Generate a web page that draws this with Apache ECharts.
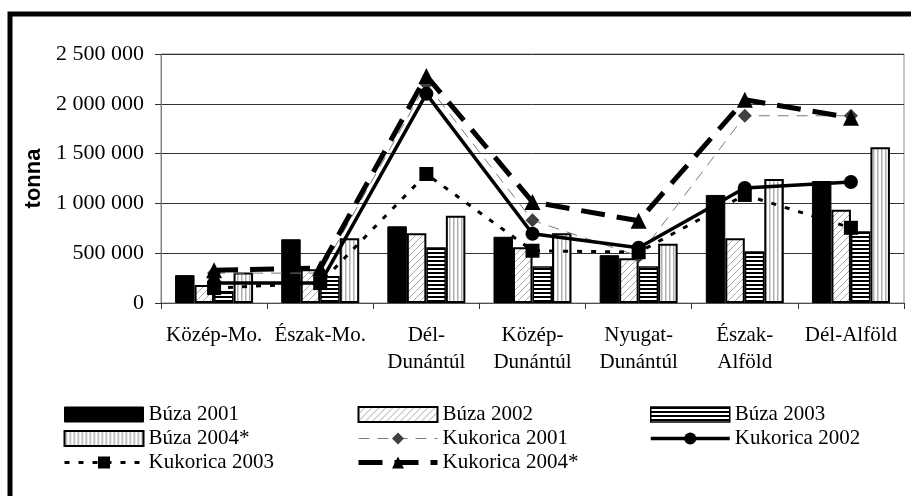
<!DOCTYPE html>
<html>
<head>
<meta charset="utf-8">
<script src="https://cdn.jsdelivr.net/npm/echarts@6/dist/echarts.min.js"></script>
<style>
  html, body { margin: 0; padding: 0; background: #fff; }
  #chart { width: 911px; height: 496px; }
</style>
</head>
<body>
<div id="chart"></div>
<script>
const categories = ['Közép-Mo.', 'Észak-Mo.', 'Dél-\nDunántúl', 'Közép-\nDunántúl', 'Nyugat-\nDunántúl', 'Észak-\nAlföld', 'Dél-Alföld']

const buza2001 = [280000, 640000, 770000, 665000, 480000, 1085000, 1225000]
const buza2002 = [180000, 340000, 700000, 560000, 450000, 650000, 935000]
const buza2003 = [120000, 270000, 560000, 370000, 370000, 520000, 720000]
const buza2004 = [305000, 650000, 875000, 700000, 595000, 1245000, 1565000]
const kukorica2001 = [300000, 300000, 2200000, 830000, 470000, 1880000, 1880000]
const kukorica2002 = [200000, 200000, 2100000, 695000, 555000, 1155000, 1215000]
const kukorica2003 = [150000, 200000, 1295000, 525000, 510000, 1085000, 755000]
const kukorica2004 = [330000, 350000, 2280000, 1015000, 825000, 2040000, 1860000]

const yMax = 2500000
const yStep = 500000

const serif = 'Liberation Serif'

// small canvas tiles for the hatched bar fills
const makeTile = (w, h, draw) => {
  const c = document.createElement('canvas')
  c.width = w
  c.height = h
  const ctx = c.getContext('2d')
  ctx.fillStyle = '#fff'
  ctx.fillRect(0, 0, w, h)
  draw(ctx)
  return { image: c, repeat: 'repeat' }
}

const diagFill = makeTile(7, 7, ctx => {
  ctx.strokeStyle = '#a8a8a8'
  ctx.lineWidth = 1
  ctx.beginPath()
  ctx.moveTo(-1, 8); ctx.lineTo(8, -1)
  ctx.moveTo(-1, 1); ctx.lineTo(1, -1)
  ctx.moveTo(6, 8); ctx.lineTo(8, 6)
  ctx.stroke()
})

const horizFill = makeTile(4, 4, ctx => {
  ctx.fillStyle = '#000'
  ctx.fillRect(0, 0, 4, 2)
})

const vertFill = makeTile(4, 4, ctx => {
  ctx.fillStyle = '#b0b0b0'
  ctx.fillRect(1, 0, 1.5, 4)
})

const fmt = v => String(v).replace(/\B(?=(\d{3})+(?!\d))/g, ' ')

const chart = echarts.init(document.getElementById('chart'))

const barBase = {
  type: 'bar',
  barWidth: 19.5,
  barGap: '0%',
  z: 2
}

const legendBase = {
  orient: 'vertical',
  top: 404,
  padding: 0,
  itemWidth: 79,
  itemHeight: 15,
  itemGap: 3,
  selectedMode: false,
  itemStyle: { borderWidth: 'inherit' },
  lineStyle: { width: 'inherit', type: 'inherit' },
  textStyle: { fontFamily: serif, fontSize: 21, color: '#000', lineHeight: 21 }
}

const barItem = name => ({ name, icon: 'rect' })

const option = {
  backgroundColor: '#fff',
  animation: false,
  graphic: [{
    type: 'rect',
    shape: { x: 10, y: 14, width: 940, height: 540 },
    style: { fill: 'none', stroke: '#000', lineWidth: 5 },
    silent: true,
    z: 100
  }],
  legend: [
    Object.assign({}, legendBase, { left: 63, data: [barItem('Búza 2001'), barItem('Búza 2004*'), 'Kukorica 2003'] }),
    Object.assign({}, legendBase, { left: 356, data: [barItem('Búza 2002'), 'Kukorica 2001', 'Kukorica 2004*'] }),
    Object.assign({}, legendBase, { left: 649, data: [barItem('Búza 2003'), 'Kukorica 2002'] })
  ],
  grid: {
    left: 161,
    right: 7,
    top: 54,
    bottom: 193,
    show: true,
    borderColor: '#8a8a8a',
    borderWidth: 1
  },
  xAxis: {
    type: 'category',
    data: categories,
    axisLine: { lineStyle: { color: '#505050', width: 1 } },
    axisTick: { show: true, length: 6, lineStyle: { color: '#303030' } },
    axisLabel: {
      interval: 0,
      margin: 19,
      fontFamily: serif,
      fontSize: 21,
      lineHeight: 27,
      color: '#000'
    }
  },
  yAxis: {
    type: 'value',
    min: 0,
    max: yMax,
    interval: yStep,
    name: 'tonna',
    nameLocation: 'middle',
    nameRotate: 90,
    nameGap: 104,
    nameTextStyle: { fontFamily: 'Liberation Sans', fontWeight: 'bold', fontSize: 22, color: '#000' },
    axisLine: { show: true, lineStyle: { color: '#808080', width: 1 } },
    axisTick: { show: true, length: 6, lineStyle: { color: '#303030' } },
    axisLabel: {
      margin: 17,
      fontFamily: serif,
      fontSize: 22,
      color: '#000',
      formatter: v => fmt(v)
    },
    splitLine: { lineStyle: { color: '#333', width: 1 } }
  },
  series: [
    Object.assign({}, barBase, {
      name: 'Búza 2001',
      data: buza2001,
      itemStyle: { color: '#000', borderColor: '#000', borderWidth: 1 }
    }),
    Object.assign({}, barBase, {
      name: 'Búza 2002',
      data: buza2002,
      itemStyle: { color: diagFill, borderColor: '#000', borderWidth: 2 }
    }),
    Object.assign({}, barBase, {
      name: 'Búza 2003',
      data: buza2003,
      itemStyle: { color: horizFill, borderColor: '#000', borderWidth: 1.5 }
    }),
    Object.assign({}, barBase, {
      name: 'Búza 2004*',
      data: buza2004,
      itemStyle: { color: vertFill, borderColor: '#000', borderWidth: 2 }
    }),
    {
      name: 'Kukorica 2001',
      type: 'line',
      data: kukorica2001,
      symbol: 'diamond',
      symbolSize: 14,
      z: 3,
      lineStyle: { color: '#7a7a7a', width: 1, type: [11, 8] },
      itemStyle: { color: '#404040' }
    },
    {
      name: 'Kukorica 2002',
      type: 'line',
      data: kukorica2002,
      symbol: 'circle',
      symbolSize: 14,
      z: 4,
      lineStyle: { color: '#000', width: 3.5, type: 'solid' },
      itemStyle: { color: '#000' }
    },
    {
      name: 'Kukorica 2003',
      type: 'line',
      data: kukorica2003,
      symbol: 'rect',
      symbolSize: 14,
      z: 5,
      lineStyle: { color: '#000', width: 3, type: [5, 9] },
      itemStyle: { color: '#000' }
    },
    {
      name: 'Kukorica 2004*',
      type: 'line',
      data: kukorica2004,
      symbol: 'triangle',
      symbolSize: 16,
      z: 6,
      lineStyle: { color: '#000', width: 5, type: [24, 12] },
      itemStyle: { color: '#000' }
    }
  ]
}

chart.setOption(option)

window.addEventListener('resize', () => chart.resize())
</script>
</body>
</html>
